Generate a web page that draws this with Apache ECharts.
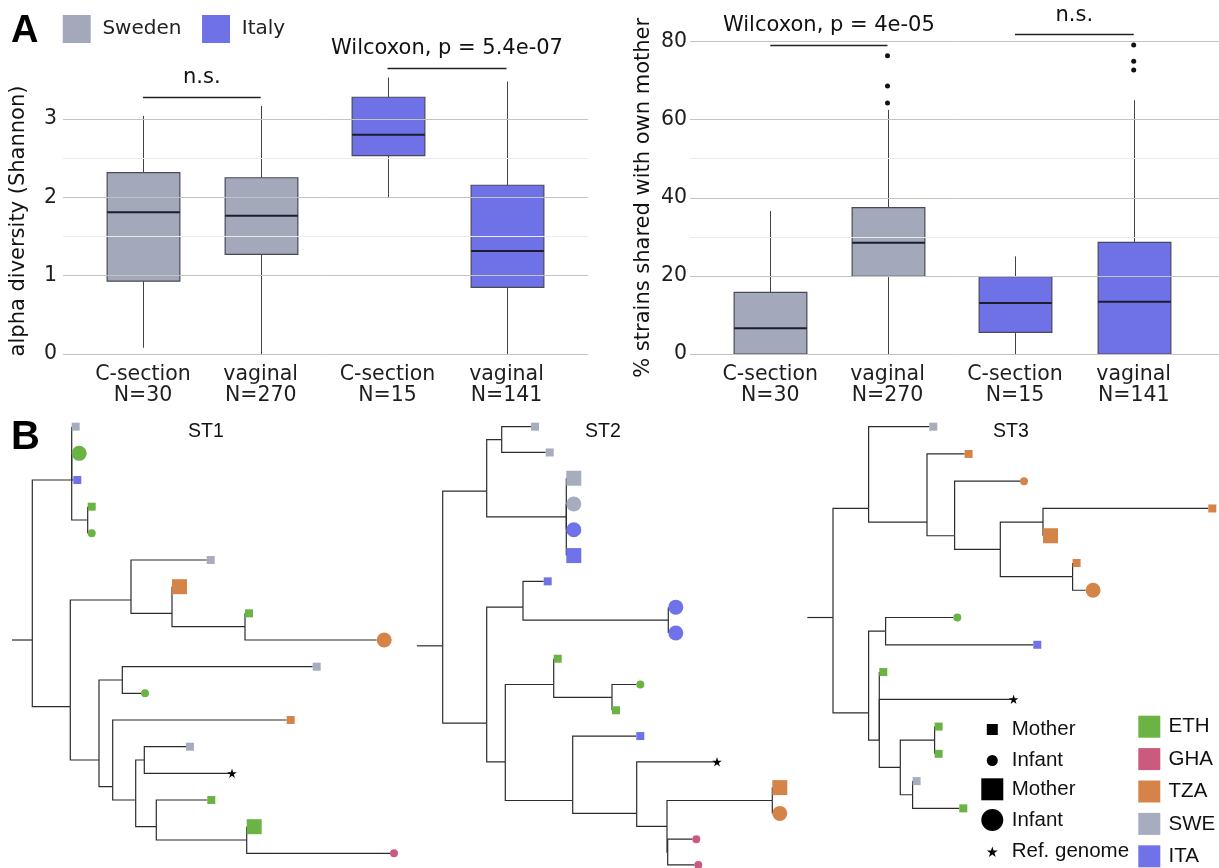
<!DOCTYPE html>
<html><head><meta charset="utf-8">
<script src="https://cdn.jsdelivr.net/npm/echarts@6/dist/echarts.min.js"></script>
<style>html,body{margin:0;padding:0;background:#fff}#c{width:1219px;height:868px}</style>
</head><body><div id="c"></div>
<script>
// ================= Panel A data =================
const catSweden = ['C-section\nN=30', 'vaginal\nN=270'];
const catItaly = ['C-section\nN=15', 'vaginal\nN=141'];
// box stats: [lower whisker, Q1, median, Q3, upper whisker]
const shannonSweden = [[0.08, 0.93, 1.81, 2.315, 3.04], [0.0, 1.273, 1.766, 2.25, 3.167]];
const shannonItaly  = [[2.0, 2.533, 2.80, 3.278, 3.53], [0.0, 0.851, 1.315, 2.154, 3.48]];
const sharedSweden  = [[0, 0, 6.6, 15.8, 36.6], [0, 19.9, 28.5, 37.5, 62.5]];
const sharedItaly   = [[0, 5.55, 13.06, 19.8, 25.0], [0, 0, 13.4, 28.6, 65.0]];
// outliers: [category index, value]
const sharedOutSweden = [[1, 76.4], [1, 68.6], [1, 64.3]];
const sharedOutItaly  = [[1, 79.1], [1, 75.0], [1, 72.7]];
const shannonTicks = [0, 1, 2, 3];
const shannonMinor = [1.5, 2.5];
const sharedTicks = [0, 20, 40, 60, 80];
const sharedMinor = [30, 50];
const shannonTestSweden = [3.277, 'n.s.'];
const shannonTestItaly  = [3.647, 'Wilcoxon, p = 5.4e-07'];
const sharedTestSweden  = [79.0, 'Wilcoxon, p = 4e-05'];
const sharedTestItaly   = [81.8, 'n.s.'];

// ================= Panel B data =================
const countries = ['ETH', 'GHA', 'TZA', 'SWE', 'ITA'];
const hosts = ['Mother', 'Infant', 'Ref. genome'];
// internal nodes: [id, parent, distance from root, y (tip index)]
const st1Nodes = [
  ['n0', null, 20.3, 8], ['n1', 'n0', 59.7, 2], ['n2', 'n1', 75.7, 3.5], ['n3', 'n0', 58.3, 10.5],
  ['n4', 'n3', 119, 6.5], ['n5', 'n4', 160, 7], ['n6', 'n5', 233, 7.5], ['n7', 'n3', 87, 12.5],
  ['n8', 'n7', 110.3, 9.5], ['n9', 'n7', 100.7, 13.5], ['n10', 'n9', 123.7, 14], ['n11', 'n10', 132.3, 12.5],
  ['n12', 'n10', 144.3, 15], ['n13', 'n12', 234.7, 15.5]
];
// tips: [parent, distance, y, country, host, size]
const st1Tips = [
  ['n1', 59.7, 0, 'SWE', 'Mother', 'S'], ['n1', 59.7, 1, 'ETH', 'Infant', 'B'], ['n1', 61.3, 2, 'ITA', 'Mother', 'S'],
  ['n2', 75.7, 3, 'ETH', 'Mother', 'S'], ['n2', 75.7, 4, 'ETH', 'Infant', 'S'], ['n4', 194.7, 5, 'SWE', 'Mother', 'S'],
  ['n5', 160, 6, 'TZA', 'Mother', 'B'], ['n6', 233, 7, 'ETH', 'Mother', 'S'], ['n6', 364.7, 8, 'TZA', 'Infant', 'B'],
  ['n8', 300.7, 9, 'SWE', 'Mother', 'S'], ['n8', 129, 10, 'ETH', 'Infant', 'S'], ['n9', 274.7, 11, 'TZA', 'Mother', 'S'],
  ['n11', 174, 12, 'SWE', 'Mother', 'S'], ['n11', 218, 13, null, 'Ref. genome', 'S'], ['n12', 195.3, 14, 'ETH', 'Mother', 'S'],
  ['n13', 234.7, 15, 'ETH', 'Mother', 'B'], ['n13', 378, 16, 'GHA', 'Infant', 'S']
];
const st2Nodes = [
  ['n0', null, 25.7, 8.5], ['n1', 'n0', 69.7, 2.5], ['n2', 'n1', 84.7, 0.5], ['n3', 'n1', 149.3, 3.5],
  ['n4', 'n0', 69.7, 11.5], ['n5', 'n4', 106, 7], ['n6', 'n5', 251.3, 7.5], ['n7', 'n4', 88.3, 13],
  ['n8', 'n7', 136.7, 10], ['n9', 'n8', 195, 10.5], ['n10', 'n7', 155.7, 14.5], ['n11', 'n10', 219.7, 15],
  ['n12', 'n11', 250, 15.5], ['n13', 'n12', 355.3, 14.5], ['n14', 'n12', 250.7, 16.5]
];
const st2Tips = [
  ['n2', 114, 0, 'SWE', 'Mother', 'S'], ['n2', 128.7, 1, 'SWE', 'Mother', 'S'], ['n3', 149.3, 2, 'SWE', 'Mother', 'B'],
  ['n3', 149.3, 3, 'SWE', 'Infant', 'B'], ['n3', 149.3, 4, 'ITA', 'Infant', 'B'], ['n3', 149.3, 5, 'ITA', 'Mother', 'B'],
  ['n5', 126.7, 6, 'ITA', 'Mother', 'S'], ['n6', 251.3, 7, 'ITA', 'Infant', 'B'], ['n6', 251.3, 8, 'ITA', 'Infant', 'B'],
  ['n8', 136.7, 9, 'ETH', 'Mother', 'S'], ['n9', 219.3, 10, 'ETH', 'Infant', 'S'], ['n9', 195, 11, 'ETH', 'Mother', 'S'],
  ['n10', 219.3, 12, 'ITA', 'Mother', 'S'], ['n11', 298, 13, null, 'Ref. genome', 'S'], ['n13', 355.3, 14, 'TZA', 'Mother', 'B'],
  ['n13', 355.3, 15, 'TZA', 'Infant', 'B'], ['n14', 275.3, 16, 'GHA', 'Infant', 'S'], ['n14', 277.3, 17, 'GHA', 'Infant', 'S']
];
const st3Nodes = [
  ['n0', null, 25.7, 7], ['n1', 'n0', 61.3, 3], ['n2', 'n1', 119.7, 3.5], ['n3', 'n2', 147.3, 4],
  ['n4', 'n3', 193, 4.5], ['n5', 'n4', 235.7, 3.5], ['n6', 'n4', 265.3, 5.5], ['n7', 'n0', 61.3, 10.5],
  ['n8', 'n7', 78.3, 7.5], ['n9', 'n7', 72, 11.5], ['n10', 'n9', 93, 12.5], ['n11', 'n10', 127.3, 11.5],
  ['n12', 'n10', 105.3, 13.5]
];
const st3Tips = [
  ['n1', 122, 0, 'SWE', 'Mother', 'S'], ['n2', 157.3, 1, 'TZA', 'Mother', 'S'], ['n3', 212.7, 2, 'TZA', 'Infant', 'S'],
  ['n5', 401, 3, 'TZA', 'Mother', 'S'], ['n5', 235.7, 4, 'TZA', 'Mother', 'B'], ['n6', 265.3, 5, 'TZA', 'Mother', 'S'],
  ['n6', 278.3, 6, 'TZA', 'Infant', 'B'], ['n8', 146, 7, 'ETH', 'Infant', 'S'], ['n8', 226, 8, 'ITA', 'Mother', 'S'],
  ['n9', 72, 9, 'ETH', 'Mother', 'S'], ['n9', 204.3, 10, null, 'Ref. genome', 'S'], ['n11', 127.3, 11, 'ETH', 'Mother', 'S'],
  ['n11', 127.3, 12, 'ETH', 'Mother', 'S'], ['n12', 105.3, 13, 'SWE', 'Mother', 'S'], ['n12', 152, 14, 'ETH', 'Mother', 'S']
];

// ================= styles =================
const FONT_A = 'DejaVu Sans';
const FONT_B = 'Liberation Sans';
const COL_SWEDEN = '#a3a8ba';
const COL_ITALY = '#6f72e7';
const countryColor = { ETH: '#6ab344', GHA: '#cb5a7f', TZA: '#d48448', SWE: '#a7acbe', ITA: '#7072ea' };
const STAR = 'path://M50,2 L61.8,38.2 L99.9,38.2 L69.1,60.6 L80.9,96.8 L50,74.4 L19.1,96.8 L30.9,60.6 L0.1,38.2 L38.2,38.2 Z';
const BOX_W = 72.7;

const chart = echarts.init(document.getElementById('c'), null, { renderer: 'canvas' });

const grids = [], xAxes = [], yAxes = [], series = [];
function addGrid(g, xa, ya) { grids.push(g); const i = grids.length - 1; xa.gridIndex = i; ya.gridIndex = i; xAxes.push(xa); yAxes.push(ya); return i; }

function boxRender(params, api) {
  const x = api.value(0);
  const lo = api.coord([x, api.value(1)]), q1 = api.coord([x, api.value(2)]), md = api.coord([x, api.value(3)]);
  const q3 = api.coord([x, api.value(4)]), hi = api.coord([x, api.value(5)]);
  const cx = Math.round(lo[0]) + 0.5, h = BOX_W / 2;
  return { type: 'group', children: [
    { type: 'line', shape: { x1: cx, y1: hi[1], x2: cx, y2: q3[1] }, style: { stroke: '#444', lineWidth: 1 } },
    { type: 'line', shape: { x1: cx, y1: q1[1], x2: cx, y2: lo[1] }, style: { stroke: '#444', lineWidth: 1 } },
    { type: 'rect', shape: { x: cx - h, y: q3[1], width: 2 * h, height: q1[1] - q3[1] }, style: { fill: api.visual('color'), stroke: '#484a5a', lineWidth: 1.2 } },
    { type: 'line', shape: { x1: cx - h, y1: md[1], x2: cx + h, y2: md[1] }, style: { stroke: '#1c1c2c', lineWidth: 2 } }
  ] };
}

function catAxis(cats) {
  return { type: 'category', data: cats, axisLine: { show: false }, axisTick: { show: false }, splitLine: { show: false },
    axisLabel: { fontFamily: FONT_A, fontSize: 20.5, lineHeight: 21, color: '#1e1e1e', margin: 10, interval: 0 } };
}
function hiddenY(max) { return { type: 'value', min: 0, max: max, show: false, splitLine: { show: false } }; }

function addBoxGroup(g, cats, stats, name, color, ymax, outliers, test) {
  const gi = addGrid(g, catAxis(cats), hiddenY(ymax));
  series.push({ type: 'custom', name: name, xAxisIndex: gi, yAxisIndex: gi, z: 3,
    itemStyle: { color: color, opacity: 1 }, renderItem: boxRender,
    encode: { x: 0, y: [1, 2, 3, 4, 5] },
    data: stats.map((s, i) => [i].concat(s)) });
  if (outliers) series.push({ type: 'scatter', xAxisIndex: gi, yAxisIndex: gi, z: 4, symbolSize: 5, itemStyle: { color: '#111', opacity: 1 }, data: outliers, silent: true });
  series.push({ type: 'line', xAxisIndex: gi, yAxisIndex: gi, data: [], z: 4, silent: true,
    markLine: { symbol: 'none', silent: true, animation: false,
      lineStyle: { color: '#222', width: 1.3, type: 'solid' },
      label: { show: true, position: 'insideMiddleTop', distance: 9, formatter: test[1], color: '#111', fontFamily: FONT_A, fontSize: 21 },
      data: [[{ coord: [0, test[0]] }, { coord: [1, test[0]] }]] } });
}

function addGridPanel(g, ymax, interval, ticks, minor, name, nameGap, labelMargin) {
  const gi = addGrid(g, { type: 'value', min: 0, max: 1, show: false },
    { type: 'value', min: 0, max: ymax, interval: interval, axisLine: { show: false }, axisTick: { show: false }, splitLine: { show: false },
      axisLabel: { fontFamily: FONT_A, fontSize: 20.5, color: '#1e1e1e', margin: labelMargin, formatter: v => (ticks.indexOf(v) >= 0 ? String(v) : '') },
      name: name, nameLocation: 'middle', nameGap: nameGap, nameTextStyle: { fontFamily: FONT_A, fontSize: 21, color: '#111' } });
  series.push({ type: 'line', xAxisIndex: gi, yAxisIndex: gi, data: [], z: 1, silent: true,
    markLine: { symbol: 'none', silent: true, animation: false, label: { show: false },
      data: ticks.map(v => ({ yAxis: v, lineStyle: { color: '#c3c3c3', width: 1, type: 'solid' } }))
        .concat(minor.map(v => ({ yAxis: v, lineStyle: { color: '#ebebeb', width: 1, type: 'solid' } }))) } });
}

// ---- Panel A left: Shannon ----
addGridPanel({ left: 63, top: 88, width: 525, height: 266 }, 3.396, 1, shannonTicks, shannonMinor, 'alpha diversity (Shannon)', 34, 6);
addBoxGroup({ left: 84.15, top: 40.67, width: 235.4, height: 313.33 }, catSweden, shannonSweden, 'Sweden', COL_SWEDEN, 4, null, shannonTestSweden);
addBoxGroup({ left: 328, top: 40.67, width: 238, height: 313.33 }, catItaly, shannonItaly, 'Italy', COL_ITALY, 4, null, shannonTestItaly);
// ---- Panel A right: shared strains ----
addGridPanel({ left: 690, top: 41.6, width: 529, height: 312.4 }, 80, 20, sharedTicks, sharedMinor, '% strains shared with own mother', 36, 3);
addBoxGroup({ left: 711.7, top: 2.55, width: 234.4, height: 351.45 }, catSweden, sharedSweden, 'Sweden', COL_SWEDEN, 90, sharedOutSweden, sharedTestSweden);
addBoxGroup({ left: 955.65, top: 2.55, width: 237.4, height: 351.45 }, catItaly, sharedItaly, 'Italy', COL_ITALY, 90, sharedOutItaly, sharedTestItaly);

// ---- Panel B trees ----
function edgeRender(params, api) {
  const a = api.coord([api.value(0), api.value(1)]);
  const b = api.coord([api.value(0), api.value(3)]);
  const c = api.coord([api.value(2), api.value(3)]);
  return { type: 'polyline', shape: { points: [a, b, c] }, style: { stroke: '#2c2c2c', lineWidth: 1.2, fill: null } };
}
function addTree(g, width, nTips, nodes, tips) {
  const gi = addGrid(g, { type: 'value', min: 0, max: width, show: false },
    { type: 'value', min: 0, max: nTips - 1, inverse: true, show: false });
  const pos = {};
  nodes.forEach(n => { pos[n[0]] = [n[2], n[3]]; });
  const edges = [];
  nodes.forEach(n => { const p = n[1] ? pos[n[1]] : [0, n[3]]; edges.push([p[0], p[1], n[2], n[3]]); });
  tips.forEach(t => { const p = pos[t[0]]; edges.push([p[0], p[1], t[1], t[2]]); });
  series.push({ type: 'custom', xAxisIndex: gi, yAxisIndex: gi, z: 2, silent: true, renderItem: edgeRender,
    encode: { x: [0, 2], y: [1, 3] }, data: edges });
  series.push({ type: 'scatter', xAxisIndex: gi, yAxisIndex: gi, z: 3, silent: true, clip: false,
    data: tips.map(t => {
      const ref = t[4] === 'Ref. genome';
      const size = ref ? 9.5 : (t[5] === 'B' ? 15 : 8);
      return { value: [t[1], t[2]], symbol: ref ? STAR : (t[4] === 'Mother' ? 'rect' : 'circle'),
        symbolSize: size, symbolOffset: [ref ? 2 : size / 2, 0], itemStyle: { color: ref ? '#000' : countryColor[t[3]], opacity: 1 } };
    }) });
  return gi;
}
const t1 = addTree({ left: 12, top: 426.67, width: 390, height: 426.67 }, 390, 17, st1Nodes, st1Tips);
addTree({ left: 417, top: 426.67, width: 390, height: 438.3 }, 390, 18, st2Nodes, st2Tips);
addTree({ left: 807.3, top: 426.67, width: 411.7, height: 381.7 }, 411.7, 15, st3Nodes, st3Tips);

// legend-only series
countries.forEach(c => series.push({ type: 'scatter', name: c, xAxisIndex: t1, yAxisIndex: t1, data: [], itemStyle: { color: countryColor[c], opacity: 1 } }));
hosts.forEach(h => series.push({ type: 'scatter', name: h, xAxisIndex: t1, yAxisIndex: t1, data: [], itemStyle: { color: '#000', opacity: 1 } }));

const legendText = { fontFamily: FONT_B, fontSize: 20.5, color: '#111', lineHeight: 20 };
chart.setOption({
  animation: false,
  backgroundColor: '#fff',
  title: [
    { text: 'A', left: 11, top: 13, padding: 0, textStyle: { fontFamily: FONT_B, fontWeight: 'bold', fontSize: 38, color: '#000' } },
    { text: 'B', left: 11, top: 418, padding: 0, textStyle: { fontFamily: FONT_B, fontWeight: 'bold', fontSize: 40, color: '#000' } },
    { text: 'ST1', left: 188, top: 422, padding: 0, textStyle: { fontFamily: FONT_B, fontWeight: 'normal', fontSize: 19.5, color: '#111' } },
    { text: 'ST2', left: 585, top: 422, padding: 0, textStyle: { fontFamily: FONT_B, fontWeight: 'normal', fontSize: 19.5, color: '#111' } },
    { text: 'ST3', left: 993, top: 422, padding: 0, textStyle: { fontFamily: FONT_B, fontWeight: 'normal', fontSize: 19.5, color: '#111' } }
  ],
  legend: [
    { data: [{ name: 'Sweden', itemStyle: { color: COL_SWEDEN, opacity: 1 } }, { name: 'Italy', itemStyle: { color: COL_ITALY, opacity: 1 } }],
      left: 62.7, top: 15, padding: 0, itemWidth: 28, itemHeight: 28, itemGap: 20.6, icon: 'rect', selectedMode: false,
      textStyle: { fontFamily: FONT_A, fontSize: 20, color: '#222', padding: [0, 0, 0, 6.7] } },
    { data: [{ name: 'Mother', icon: 'rect' }, { name: 'Infant', icon: 'circle' }], orient: 'vertical',
      left: 986.8, top: 719, padding: 0, itemWidth: 11, itemHeight: 11, itemGap: 10, selectedMode: false,
      textStyle: Object.assign({ padding: [0, 0, 0, 8.9] }, legendText) },
    { data: [{ name: 'Mother', icon: 'rect' }, { name: 'Infant', icon: 'circle' }], orient: 'vertical',
      left: 981.3, top: 778.3, padding: 0, itemWidth: 22, itemHeight: 22, itemGap: 8.7, selectedMode: false,
      textStyle: Object.assign({ padding: [0, 0, 0, 3.4] }, legendText) },
    { data: [{ name: 'Ref. genome', icon: STAR }], orient: 'vertical',
      left: 986.8, top: 841.2, padding: 0, itemWidth: 11, itemHeight: 11, selectedMode: false,
      textStyle: Object.assign({ padding: [0, 0, 0, 8.9] }, legendText) },
    { data: countries.map(c => ({ name: c, icon: 'rect' })), orient: 'vertical',
      left: 1138.3, top: 715.7, padding: 0, itemWidth: 22, itemHeight: 22, itemGap: 10.4, selectedMode: false,
      textStyle: Object.assign({ padding: [0, 0, 0, 3.3] }, legendText) }
  ],
  grid: grids,
  xAxis: xAxes,
  yAxis: yAxes,
  series: series
});
</script></body></html>
